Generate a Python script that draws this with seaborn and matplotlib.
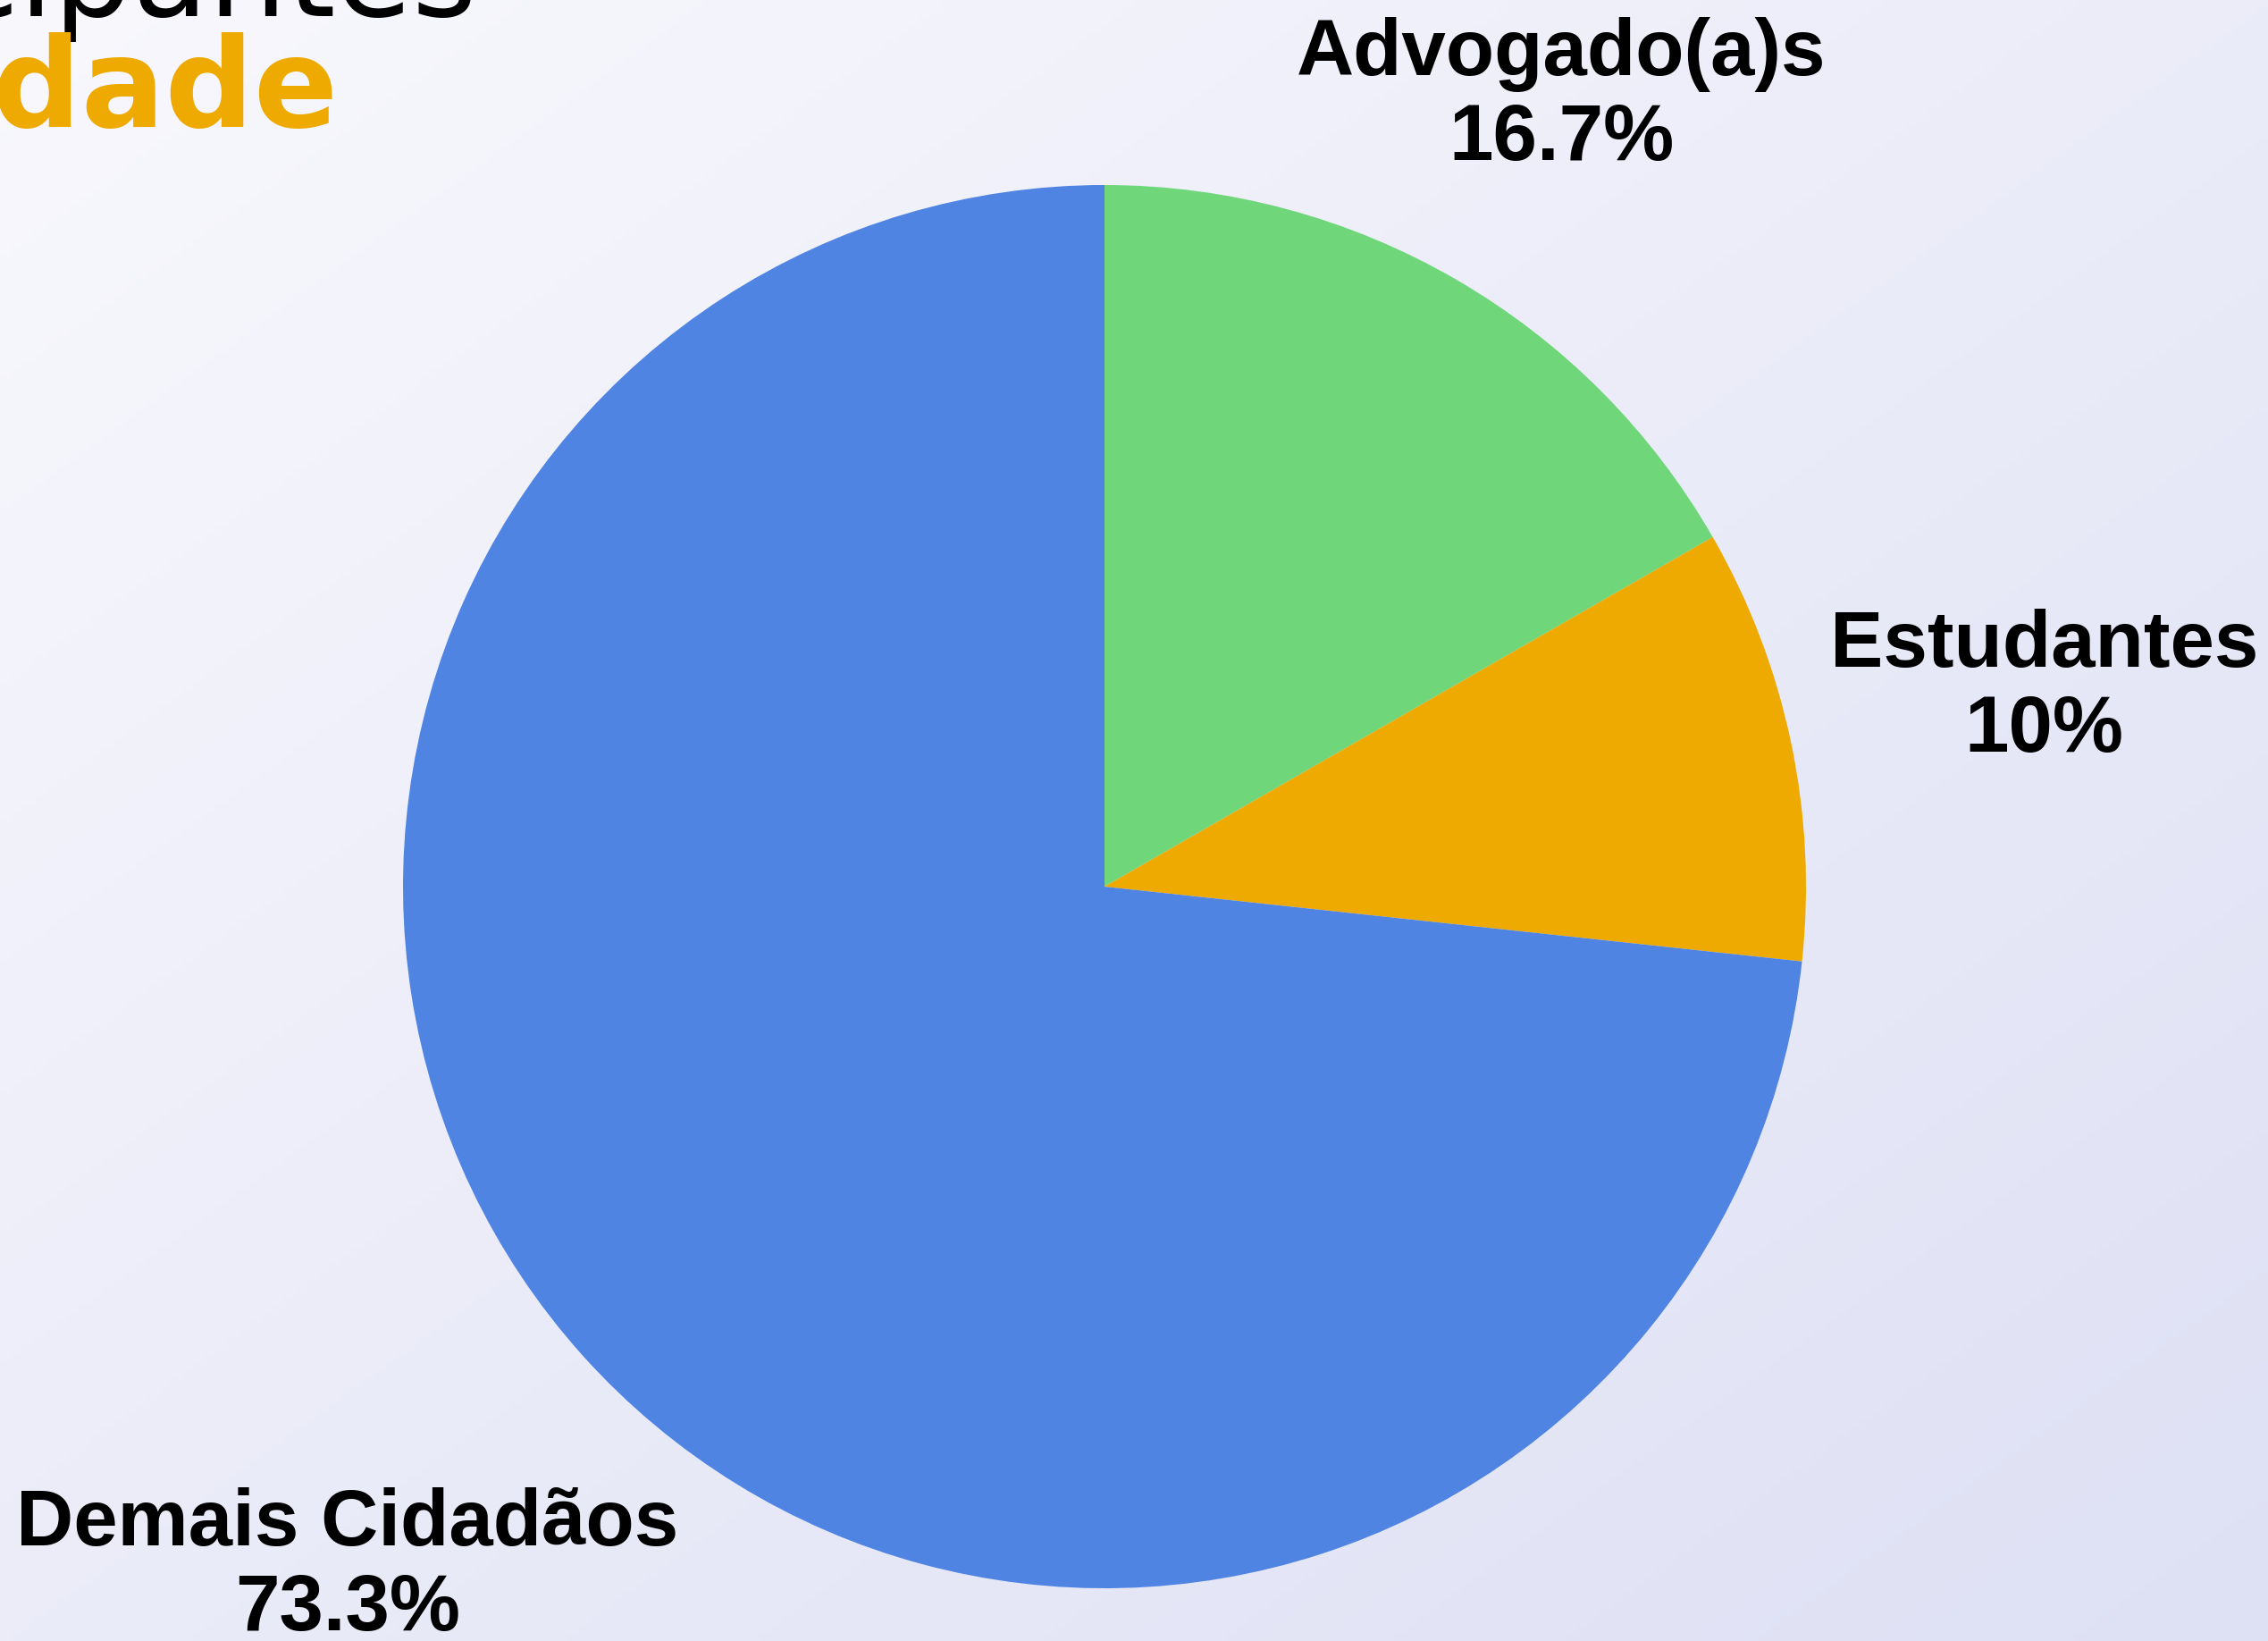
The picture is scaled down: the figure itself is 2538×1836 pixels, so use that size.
import numpy as np
import matplotlib
matplotlib.use("Agg")
import matplotlib.pyplot as plt
import seaborn as sns

sns.set_theme(style="white")
plt.rcParams["font.family"] = ["Liberation Sans", "DejaVu Sans"]

# --- dados ---
categorias = ["Advogado(a)s", "Estudantes", "Demais Cidadãos"]
percentuais = [16.7, 10.0, 73.3]
cores = ["#6FD67A", "#EEAA00", "#4F84E2"]
distancias_rotulo = [1.30, 1.369, 1.451]
titulo_linha1 = "Participantes"
titulo_linha2 = "Comunidade"

W, H = 2538, 1836
fig = plt.figure(figsize=(W / 100, H / 100), dpi=100)

# fundo em degradê
bg = fig.add_axes([0, 0, 1, 1], zorder=0)
yy, xx = np.mgrid[0:1:200j, 0:1:200j]
t = (xx + yy) / 2
c0 = np.array([248, 248, 253]) / 255
c1 = np.array([222, 224, 244]) / 255
img = c0[None, None, :] * (1 - t[..., None]) + c1[None, None, :] * t[..., None]
bg.imshow(img, extent=[0, 1, 0, 1], aspect="auto", origin="upper")
bg.axis("off")

ax = fig.add_axes([0, 0, 1, 1], zorder=1)
ax.patch.set_alpha(0)
cx, cy, r = 1236, H - 992, 785
wedges, _ = ax.pie(percentuais, colors=cores, startangle=90, counterclock=False,
                   center=(cx, cy), radius=r, wedgeprops=dict(linewidth=0))
ax.set_xlim(0, W)
ax.set_ylim(0, H)
ax.set_aspect("equal")
ax.axis("off")

for w, nome, pct, d in zip(wedges, categorias, percentuais, distancias_rotulo):
    ang = np.deg2rad((w.theta1 + w.theta2) / 2)
    x = cx + d * r * np.cos(ang)
    y = cy + d * r * np.sin(ang)
    ax.text(x, y, f"{nome}\n{pct:g}%", ha="center", va="center",
            fontsize=64, fontweight="bold", color="black", linespacing=1.17)

# título (cortado na borda)
fig.text(534 / W, 1 - 18 / H, titulo_linha1, ha="right", va="baseline",
         fontsize=100, color="black", zorder=3, family="DejaVu Sans")
fig.text(378 / W, 1 - 142 / H, titulo_linha2, ha="right", va="baseline",
         fontsize=100, fontweight="bold", color="#EEAA00", zorder=3,
         family="DejaVu Sans")

fig.savefig("out.png", dpi=100)
